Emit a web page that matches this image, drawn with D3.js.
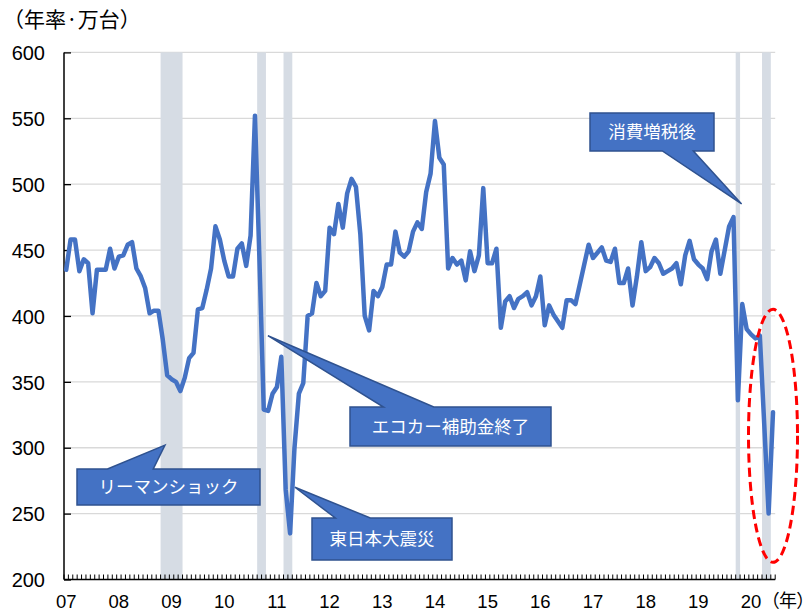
<!DOCTYPE html>
<html><head><meta charset="utf-8">
<script src="https://cdn.jsdelivr.net/npm/d3@7"></script>
<style>body{margin:0;background:#fff}svg{display:block}</style>
</head><body><svg id="c" width="807" height="612"></svg>
<script>
// ---- data ----
const yearLabels = ["07","08","09","10","11","12","13","14","15","16","17","18","19","20"];
const months = [];
yearLabels.forEach(y => { for (let m = 1; m <= 12; m++) months.push("20" + y + "-" + String(m).padStart(2, "0")); });
months.length = 162; // 2007-01 .. 2020-06

const sales = [
  435, 458, 458, 434, 443, 440, 402, 435, 435, 435, 451, 436, // 2007
  445, 446, 454, 456, 436, 430, 421, 402, 404, 404, 382, 355, // 2008
  352, 350, 343, 353, 368, 372, 405, 406, 420, 436, 468, 458, // 2009
  442, 430, 430, 451, 455, 438, 461, 552, 445, 329, 328, 341, // 2010
  346, 369, 268, 235, 300, 341, 349, 400, 402, 425, 415, 419, // 2011
  467, 462, 485, 467, 493, 504, 498, 462, 400, 389, 419, 415, // 2012
  422, 439, 439, 464, 448, 445, 449, 464, 471, 466, 494, 508, // 2013
  548, 520, 515, 436, 444, 439, 442, 427, 449, 434, 446, 497, // 2014
  440, 440, 451, 391, 411, 415, 406, 413, 415, 418, 408, 415, // 2015
  430, 393, 408, 401, 396, 391, 412, 412, 409, 424, 439, 454, // 2016
  444, 448, 452, 442, 441, 451, 425, 425, 436, 408, 430, 456, // 2017
  434, 437, 444, 440, 432, 434, 436, 440, 424, 446, 457, 443, // 2018
  439, 436, 428, 449, 458, 432, 450, 468, 475, 336, 409, 390, // 2019
  386, 383, 385, 318, 250, 327                                 // 2020
];
const yTicks = [200, 250, 300, 350, 400, 450, 500, 550, 600];
const shadeRanges = [["2008-11","2009-03"],["2010-09","2010-10"],["2011-03","2011-04"],["2019-10","2019-10"],["2020-04","2020-05"]];
const callouts = [
  {text: "リーマンショック",   month: "2008-11", at: 1.0,  value: 302, box: [77, 469, 183, 36]},
  {text: "エコカー補助金終了", month: "2010-11", at: 0.45, value: 385, box: [350, 407, 201, 39]},
  {text: "東日本大震災",       month: "2011-05", at: 0.6,  value: 270, box: [312, 518, 140, 42]},
  {text: "消費増税後",         month: "2019-11", at: 0.35, value: 485, box: [590, 113, 124, 38]}
];

// ---- layout ----
const svg = d3.select("#c");
const L = 64, R = 775.2, T = 52.4, B = 579.5;
const x = d3.scaleBand().domain(months).range([L, R]).padding(0);
const bw = x.bandwidth();
const y = d3.scaleLinear().domain([200, 600]).range([B, T]);
const cx = m => x(m) + bw / 2;

// gridlines
svg.append("g").selectAll("line").data(yTicks.filter(d => d > 200)).join("line")
  .attr("x1", L).attr("x2", R).attr("y1", d => y(d)).attr("y2", d => y(d))
  .attr("stroke", "#d9d9d9").attr("stroke-width", 1.3);

// shading
svg.append("g").selectAll("rect").data(shadeRanges).join("rect")
  .attr("x", d => x(d[0])).attr("width", d => x(d[1]) + bw - x(d[0]))
  .attr("y", T).attr("height", B - T).attr("fill", "#d6dce4");

// axes
const yAxis = d3.axisLeft(y).tickValues(yTicks).tickSize(-7).tickPadding(0).tickFormat(d3.format("d"));
const gy = svg.append("g").attr("transform", `translate(${L},0)`).call(yAxis);
gy.select(".domain").remove();
gy.selectAll(".tick line").attr("stroke", "#000").attr("stroke-width", 1.3);
gy.selectAll(".tick text").attr("x", -19).attr("dy", "0.36em")
  .attr("font-family", "'Liberation Sans', Arial, sans-serif").attr("font-size", 20).attr("fill", "#000");
svg.append("line").attr("x1", L).attr("x2", L).attr("y1", T).attr("y2", B).attr("stroke", "#000").attr("stroke-width", 1.5);

// x axis month ticks (between categories)
const tickPos = months.map(m => x(m)).concat([R]);
svg.append("g").selectAll("line").data(tickPos).join("line")
  .attr("x1", d => d).attr("x2", d => d).attr("y1", B - 5).attr("y2", B)
  .attr("stroke", "#000").attr("stroke-width", 1);
svg.append("line").attr("x1", L).attr("x2", R).attr("y1", B).attr("y2", B).attr("stroke", "#000").attr("stroke-width", 1.6);

// year labels
svg.append("g").selectAll("text").data(yearLabels).join("text")
  .attr("x", d => cx("20" + d + "-01")).attr("y", 608)
  .attr("text-anchor", "middle")
  .attr("font-family", "'Liberation Sans', Arial, sans-serif").attr("font-size", 18.5).attr("fill", "#000")
  .text(d => d);
svg.append("text").attr("x", 770).attr("y", 607)
  .attr("font-family", "'Noto Sans CJK JP', sans-serif").attr("font-size", 18)
  .style("font-feature-settings", "'palt' 1").attr("fill", "#000")
  .text("（年）");
svg.append("text").attr("x", 3).attr("y", 27)
  .attr("font-family", "'Noto Sans CJK JP', sans-serif").attr("font-size", 21).attr("fill", "#000")
  .text("（年率·万台）");

// data line
const line = d3.line().x((d, i) => cx(months[i])).y(d => y(d));
svg.append("path").datum(sales).attr("d", line)
  .attr("fill", "none").attr("stroke", "#4472c4").attr("stroke-width", 4.5)
  .attr("stroke-linejoin", "round").attr("stroke-linecap", "round");

// callouts
function calloutPath(bx, by, w, h, tx, ty) {
  const dx = tx - (bx + w / 2), dy = ty - (by + h / 2);
  const dxn = dx * h / w;
  if (Math.abs(dxn) > Math.abs(dy)) {
    const a = dy < 0 ? h * 2 / 12 : h * 7 / 12, b = dy < 0 ? h * 5 / 12 : h * 10 / 12;
    if (dx < 0) return `M${bx},${by}L${bx+w},${by}L${bx+w},${by+h}L${bx},${by+h}L${bx},${by+b}L${tx},${ty}L${bx},${by+a}Z`;
    return `M${bx},${by}L${bx+w},${by}L${bx+w},${by+a}L${tx},${ty}L${bx+w},${by+b}L${bx+w},${by+h}L${bx},${by+h}Z`;
  }
  const a = dx < 0 ? w * 2 / 12 : w * 7 / 12, b = dx < 0 ? w * 5 / 12 : w * 10 / 12;
  if (dy < 0) return `M${bx},${by}L${bx+a},${by}L${tx},${ty}L${bx+b},${by}L${bx+w},${by}L${bx+w},${by+h}L${bx},${by+h}Z`;
  return `M${bx},${by}L${bx+w},${by}L${bx+w},${by+h}L${bx+b},${by+h}L${tx},${ty}L${bx+a},${by+h}L${bx},${by+h}Z`;
}
const cg = svg.append("g").selectAll("g").data(callouts).join("g");
cg.append("path")
  .attr("d", d => calloutPath(d.box[0], d.box[1], d.box[2], d.box[3], x(d.month) + bw * d.at, y(d.value)))
  .attr("fill", "#4472c4").attr("stroke", "#2f528f").attr("stroke-width", 1.5).attr("stroke-linejoin", "miter");
cg.append("text")
  .attr("x", d => d.box[0] + d.box[2] / 2).attr("y", d => d.box[1] + d.box[3] / 2)
  .attr("dy", "0.36em").attr("text-anchor", "middle")
  .attr("font-family", "'Noto Sans CJK JP', sans-serif").attr("font-size", 17.5).attr("fill", "#fff")
  .text(d => d.text);

// red dashed ellipse around 2020
svg.append("ellipse")
  .attr("cx", cx("2020-06")).attr("cy", y(309))
  .attr("rx", 24.5).attr("ry", (y(213) - y(405)) / 2)
  .attr("fill", "none").attr("stroke", "#ff0000").attr("stroke-width", 3).attr("stroke-dasharray", "9,5");
</script></body></html>
